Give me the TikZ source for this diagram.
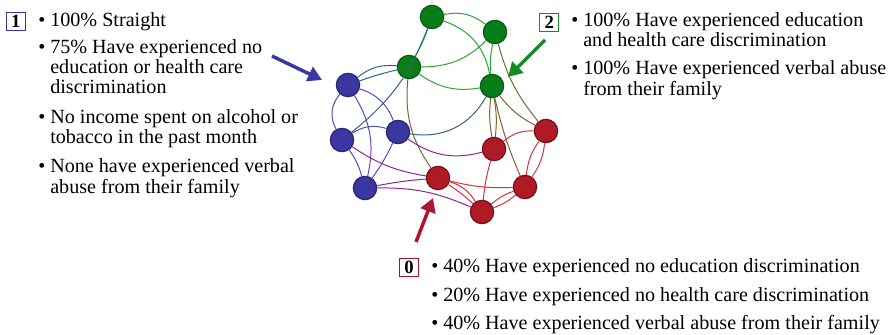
\documentclass[tikz,border=0pt]{standalone}
\usepackage{fontspec}
\setmainfont{Liberation Serif}
\usetikzlibrary{arrows.meta}

\definecolor{bluenode}{RGB}{58,56,160}
\definecolor{bluerim}{RGB}{40,36,120}
\definecolor{greennode}{RGB}{8,125,24}
\definecolor{greenrim}{RGB}{5,90,15}
\definecolor{rednode}{RGB}{176,26,36}
\definecolor{redrim}{RGB}{120,15,22}
\definecolor{blueedge}{RGB}{85,75,195}
\definecolor{greenedge}{RGB}{40,165,55}
\definecolor{rededge}{RGB}{215,50,60}
\definecolor{tealedge}{RGB}{45,100,135}
\definecolor{brownedge}{RGB}{125,100,50}
\definecolor{purpleedge}{RGB}{140,40,145}
\definecolor{bluearrow}{RGB}{55,55,165}
\definecolor{greenarrow}{RGB}{20,140,35}
\definecolor{redarrow}{RGB}{175,20,45}

\newcommand{\itemlines}[1]{\begin{tabular}[t]{@{}l@{}}#1\end{tabular}}

\tikzset{
  vtx/.style={circle, minimum size=17.5pt, inner sep=0pt, line width=0.9pt},
  bv/.style={vtx, fill=bluenode, draw=bluerim},
  gv/.style={vtx, fill=greennode, draw=greenrim},
  rv/.style={vtx, fill=rednode, draw=redrim},
  link/.style={line width=0.75pt},
  pointer/.style={line width=2.6pt, -{Triangle[length=10.5pt,width=11.5pt]}},
  tag/.style={draw, line width=0.9pt, minimum width=14.25pt, minimum height=13.5pt,
    inner sep=0pt, font=\bfseries\fontsize{14}{14}\selectfont},
  txt/.style={anchor=base west, inner sep=0pt, font=\fontsize{15.1}{15}\selectfont},
  dot/.style={anchor=base, inner sep=0pt, font=\fontsize{15.1}{15}\selectfont},
}

\begin{document}
\begin{tikzpicture}[x=0.75pt, y=-0.75pt]
\useasboundingbox (0,0) rectangle (894,335);

% vertices
\node[gv] (G1) at (432,17) {};
\node[gv] (G2) at (495,32) {};
\node[gv] (G3) at (409,67) {};
\node[gv] (G4) at (492,86) {};
\node[bv] (B1) at (348,85) {};
\node[bv] (B2) at (342,140) {};
\node[bv] (B3) at (398,132) {};
\node[bv] (B4) at (365,188) {};
\node[rv] (R1) at (546,131) {};
\node[rv] (R2) at (494,149) {};
\node[rv] (R3) at (438,178) {};
\node[rv] (R4) at (525,187) {};
\node[rv] (R5) at (482,212) {};

% links
\begin{scope}[link]
  % blue group
  \draw[blueedge] (B1) to[bend right=35] (B2);
  \draw[blueedge] (B1) to[bend left=25] (B3);
  \draw[blueedge] (B1) to[bend left=22] (B4);
  \draw[blueedge] (B2) to[bend left=25] (B3);
  \draw[blueedge] (B2) to[bend left=10] (B4);
  \draw[blueedge] (B3) to[bend left=5] (B4);
  % green group
  \draw[greenedge] (G1) to[bend left=25] (G2);
  \draw[greenedge] (G1) to[bend left=30] (G4);
  \draw[greenedge] (G1) to[bend left=5] (G3);
  \draw[greenedge] (G3) to[bend right=22] (G2);
  \draw[greenedge] (G3) to[bend right=22] (G4);
  \draw[greenedge] (G2) to[bend right=8] (G4);
  % blue to green
  \draw[tealedge] (G1) to[bend left=15] (B2);
  \draw[tealedge] (B1) to[bend left=22] (G3);
  \draw[tealedge] (B1) to[bend left=3] (G3);
  \draw[tealedge] (B3) to[bend right=35] (G4);
  % green to red
  \draw[brownedge] (G3) to[bend right=20] (R3);
  \draw[brownedge] (G4) to[bend right=8] (R2);
  \draw[brownedge] (G4) to[bend left=8] (R2);
  \draw[brownedge] (G4) to[bend right=12] (R1);
  \draw[brownedge] (G2) to[bend right=12] (R1);
  \draw[brownedge] (G4) to[bend right=5] (R4);
  % blue to red
  \draw[purpleedge] (B3) to[bend right=25] (R2);
  \draw[purpleedge] (B2) to[bend right=12] (R3);
  \draw[purpleedge] (B4) to[bend left=3] (R3);
  \draw[purpleedge] (B4) to[bend left=12] (R5);
  % red group
  \draw[rededge] (R2) to[bend left=20] (R1);
  \draw[rededge] (R1) to[bend left=14] (R4);
  \draw[rededge] (R1) to[bend right=14] (R4);
  \draw[rededge] (R2) to[bend right=5] (R5);
  \draw[rededge] (R3) to[bend left=20] (R5);
  \draw[rededge] (R3) to[bend left=5] (R5);
  \draw[rededge] (R3) to[bend right=8] (R4);
  \draw[rededge] (R5) to[bend left=10] (R4);
  \draw[rededge] (R5) to[bend right=10] (R4);
\end{scope}

% pointers
\coordinate (p1s) at (272,56);  \coordinate (p1e) at (322,80);
\coordinate (p2s) at (545,40);  \coordinate (p2e) at (508,77);
\coordinate (p0s) at (416,242); \coordinate (p0e) at (433,198);
\draw[pointer, bluearrow] (p1s) -- (p1e);
\draw[pointer, greenarrow] (p2s) -- (p2e);
\draw[pointer, redarrow] (p0s) -- (p0e);

% cluster 1
\node[tag, draw=bluearrow] (k1) at (15.7,21.7) {1};
\node[dot] (d11) at (42,27) {\textbullet};
\node[txt] (t11) at (50,27) {100\% Straight};
\node[dot] (d12) at (42,54) {\textbullet};
\node[txt] (t12) at (50,54) {\itemlines{75\% Have experienced no\\education or health care\\discrimination}};
\node[dot] (d13) at (42,124) {\textbullet};
\node[txt] (t13) at (50,124) {\itemlines{No income spent on alcohol or\\tobacco in the past month}};
\node[dot] (d14) at (42,173) {\textbullet};
\node[txt] (t14) at (50,173) {\itemlines{None have experienced verbal\\abuse from their family}};

% cluster 2
\node[tag, draw=greenarrow] (k2) at (549.3,22.3) {2};
\node[dot] (d21) at (575,26.7) {\textbullet};
\node[txt] (t21) at (583,26.7) {\itemlines{100\% Have experienced education\\and health care discrimination}};
\node[dot] (d22) at (575,75) {\textbullet};
\node[txt] (t22) at (583,75) {\itemlines{100\% Have experienced verbal abuse\\from their family}};

% cluster 0
\node[tag, draw=redarrow] (k0) at (409,267.5) {0};
\node[dot] (d01) at (435,272.7) {\textbullet};
\node[txt] (t01) at (443,272.7) {40\% Have experienced no education discrimination};
\node[dot] (d02) at (435,301) {\textbullet};
\node[txt] (t02) at (443,301) {20\% Have experienced no health care discrimination};
\node[dot] (d03) at (435,329.3) {\textbullet};
\node[txt] (t03) at (443,329.3) {40\% Have experienced verbal abuse from their family};
\end{tikzpicture}
\end{document}
